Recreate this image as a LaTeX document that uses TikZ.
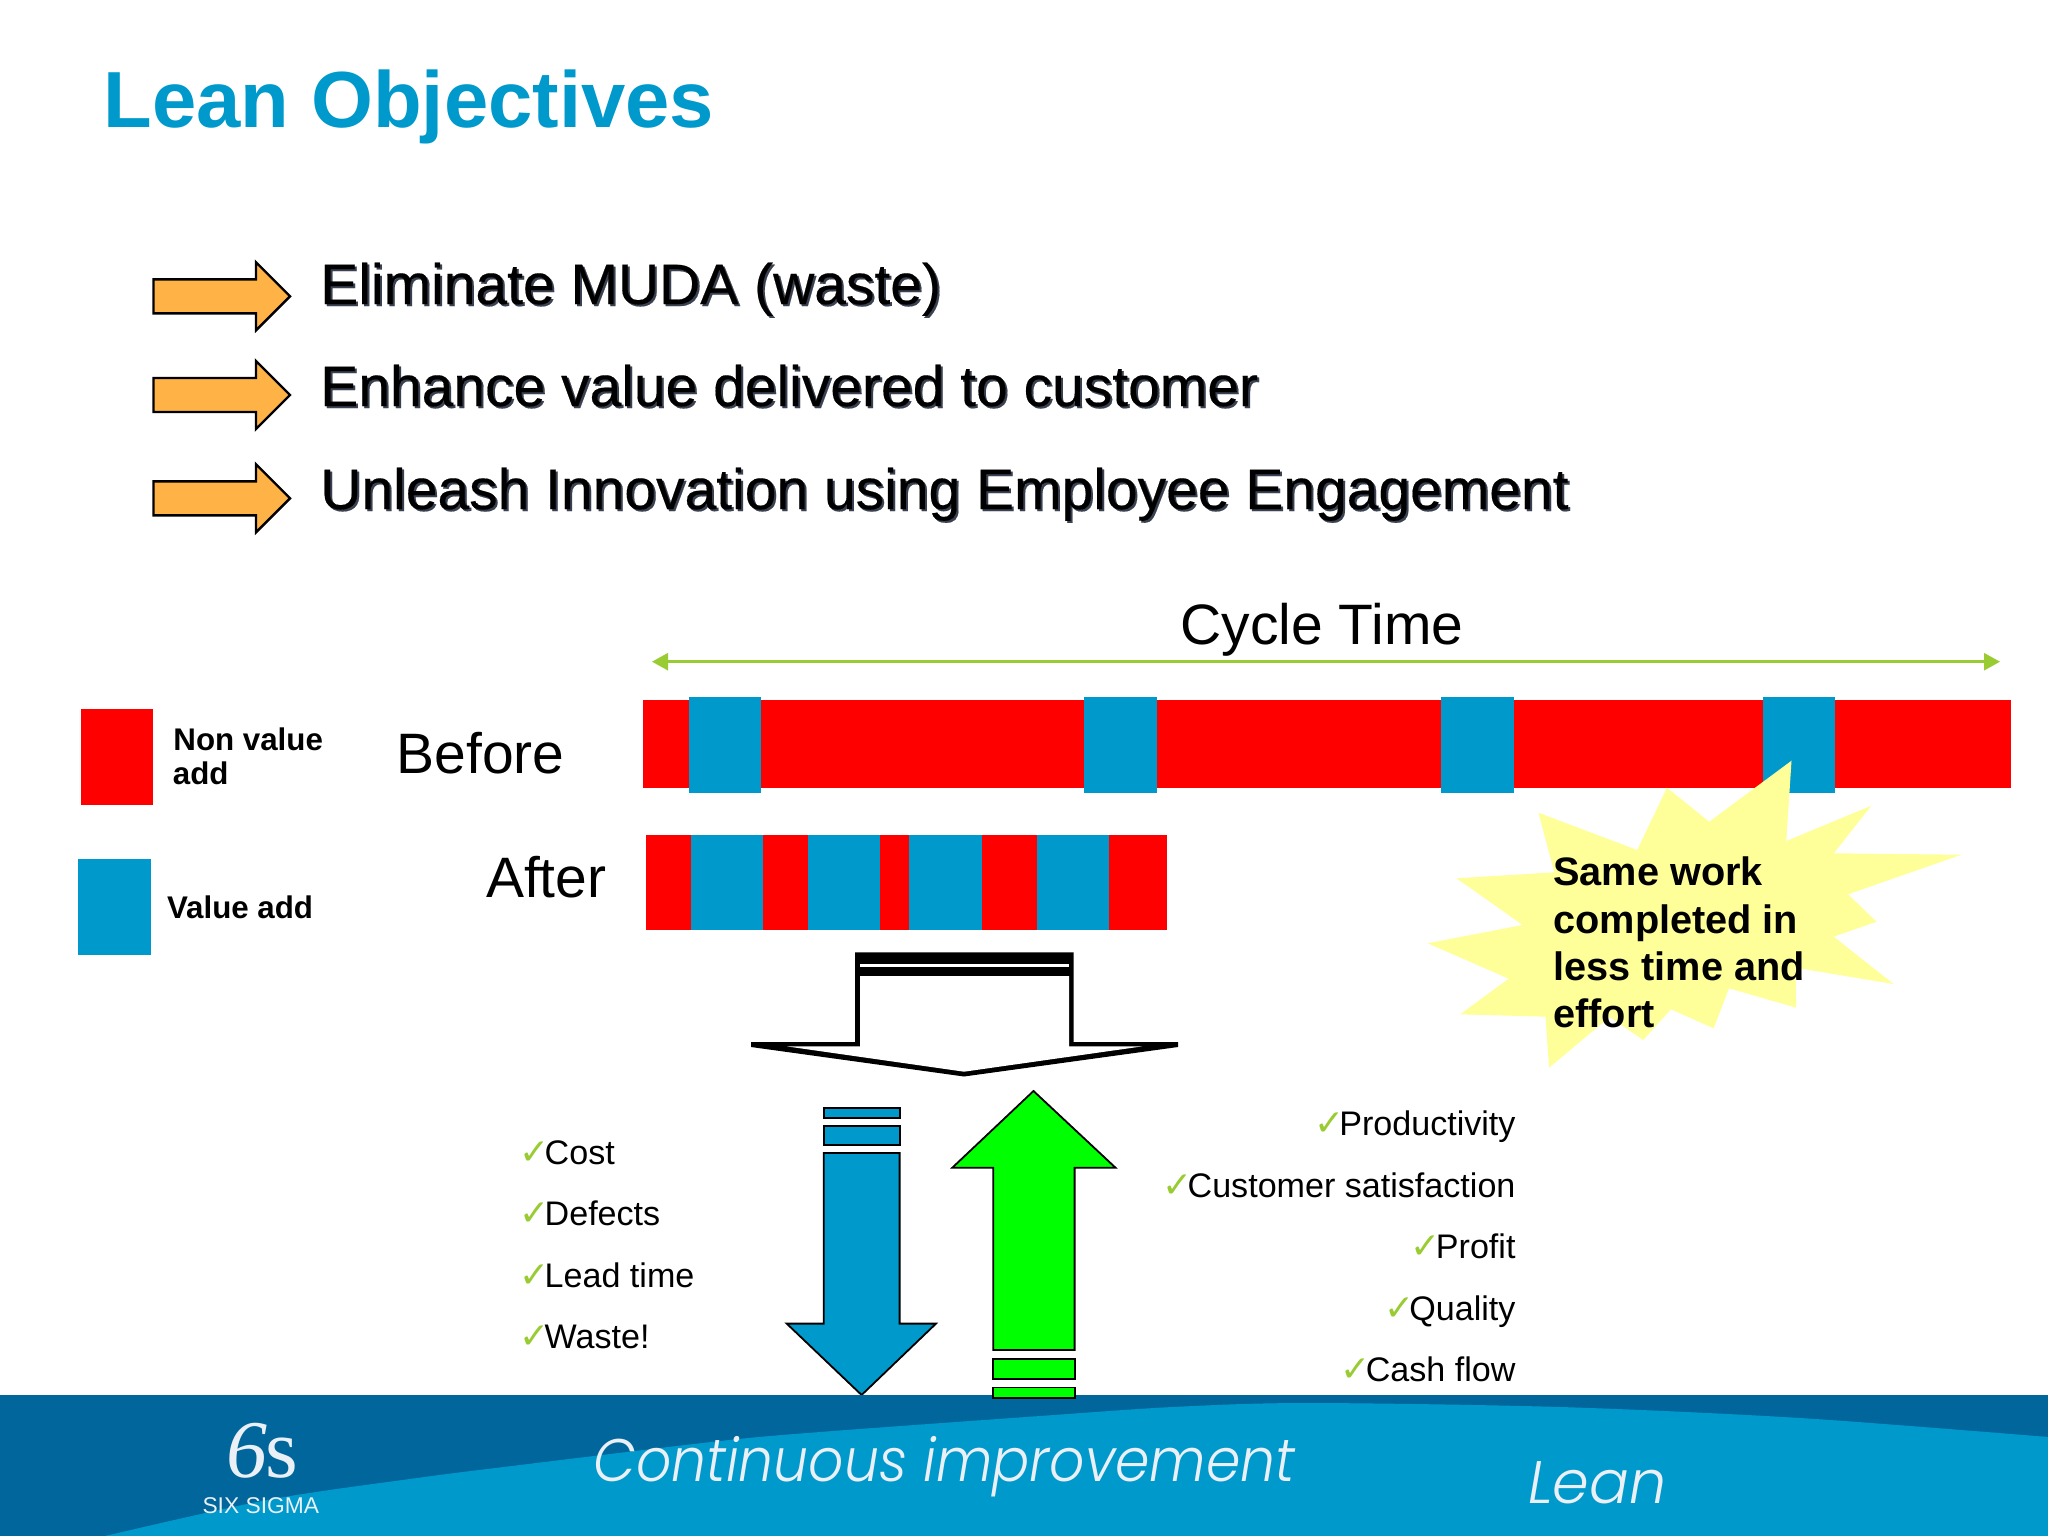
\documentclass[tikz,border=0pt]{standalone}
\usepackage{fontspec}
\usetikzlibrary{arrows.meta}
\setmainfont{Liberation Sans}
\newfontfamily\timesf{Liberation Serif}
\newfontfamily\gothicf[FakeStretch=0.92]{Poppins Light}
\newfontfamily\gothicg[FakeStretch=0.98]{Poppins Light}
\newfontfamily\chkf{DejaVu Sans}
\newfontfamily\headf[FakeBold=0.3]{Liberation Sans}
\definecolor{leanblue}{HTML}{0099CC}
\definecolor{bandblue}{HTML}{00669C}
\definecolor{barred}{HTML}{FF0000}
\definecolor{orangefill}{HTML}{FFB347}
\definecolor{limecol}{HTML}{99CC33}
\definecolor{burstcol}{HTML}{FFFF99}
\definecolor{shadowcol}{HTML}{3A4252}
\definecolor{bandtext}{HTML}{EAF0F5}
\newcommand{\fsz}[1]{\fontsize{#1}{#1}\selectfont}
\newcommand{\chk}{{\chkf\color{limecol}\fsz{36}\char"2713}\hspace{-5pt}}
\tikzset{
  txt/.style={anchor=base west,inner sep=0pt,outer sep=0pt,text=black},
  rtxt/.style={anchor=base east,inner sep=0pt,outer sep=0pt,text=black,font=\fsz{34.1}},
  ltxt/.style={txt,font=\fsz{34.1}},
  head/.style={txt,font=\headf\fsz{57}},
  headshadow/.style={txt,font=\headf\fsz{57},text=shadowcol},
  label/.style={txt,font=\fsz{57}},
  legend/.style={txt,font=\bfseries\fsz{31.3}},
  burst/.style={txt,font=\bfseries\fsz{39.7}},
  goal/.style={draw=black,line width=2.4pt,fill=orangefill,miter limit=10},
  redbar/.style={fill=barred},
  bluebar/.style={fill=leanblue},
  kpiblue/.style={draw=black,line width=1.8pt,fill=leanblue},
  kpigreen/.style={draw=black,line width=1.8pt,fill=green},
}
\begin{document}
\begin{tikzpicture}[x=1pt,y=-1pt]
\useasboundingbox (0,0) rectangle (2048,1536);
\fill[white] (0,0) rectangle (2048,1536);
% title
\node[txt,font=\bfseries\fsz{79.6},text=leanblue] (title) at (103.5,128) {Lean Objectives};
% goal arrows
\foreach \yy in {296.3,395,498.3}{
  \draw[goal] (153.5,\yy-17) -- (256,\yy-17) -- (256,\yy-34) -- (290,\yy) -- (256,\yy+34) -- (256,\yy+17) -- (153.5,\yy+17) -- cycle;
}
\node[headshadow] (g1s) at (322.3,306) {Eliminate MUDA (waste)};
\node[head] (g1) at (320.3,304) {Eliminate MUDA (waste)};
\node[headshadow] (g2s) at (322.3,408) {Enhance value delivered to customer};
\node[head] (g2) at (320.3,406) {Enhance value delivered to customer};
\node[headshadow] (g3s) at (322.3,511) {Unleash Innovation using Employee Engagement};
\node[head] (g3) at (320.3,509) {Unleash Innovation using Employee Engagement};
% cycle time
\node[label] (cyc) at (1180.5,644.5) {Cycle Time};
\coordinate (ctl) at (652,661.7);
\coordinate (ctr) at (2000,661.7);
\draw[limecol,line width=2.6pt,{Triangle[length=16pt,width=17pt]}-{Triangle[length=16pt,width=17pt]}] (ctl) -- (ctr);
% legend
\fill[barred] (81,709) rectangle (153,805);
\fill[leanblue] (78.4,859) rectangle (150.6,955);
\node[legend] (nv1) at (173.4,750.5) {Non value};
\node[legend] (nv2) at (172.9,784.5) {add};
\node[legend] (va) at (167,918.3) {Value add};
\node[label] (before) at (396.5,773) {Before};
\node[label] (after) at (486,897) {After};
% before bar
\fill[redbar] (643,700) rectangle (2011,788);
\foreach \xa/\xb in {688.5/761,1084/1157,1441/1514,1763/1835}{
  \fill[bluebar] (\xa,696.7) rectangle (\xb,792.7);
}
% after bar
\fill[redbar] (646,834.7) rectangle (1167,930.4);
\foreach \xa/\xb in {691/763,808/880,909/982,1036.5/1109}{
  \fill[bluebar] (\xa,834.7) rectangle (\xb,930.4);
}
% burst
\fill[burstcol] (1791.5,760.7) -- (1786.3,841) -- (1871.3,805.7) -- (1833.8,853.3) -- (1961.5,854.7) -- (1848,894.3) -- (1876.5,921.7) -- (1833.8,936.7) -- (1893.5,984) -- (1795.5,967.7) -- (1796.2,1007.7) -- (1729,988.3) -- (1713.6,1028.3) -- (1670.9,1009.3) -- (1643.2,1040) -- (1609.6,1017) -- (1549.1,1067.7) -- (1545.5,1016.7) -- (1460.1,1014.3) -- (1508.7,978.7) -- (1427.7,943.3) -- (1522.6,925) -- (1456.5,878.3) -- (1554.2,872.3) -- (1538.4,812.7) -- (1637.2,850) -- (1666.9,787.7) -- (1709.2,821.7) -- cycle;
\node[burst] (b1) at (1553.4,885.5) {Same work};
\node[burst] (b2) at (1553.4,933) {completed in};
\node[burst] (b3) at (1553.4,980.5) {less time and};
\node[burst] (b4) at (1553.4,1027.7) {effort};
% hollow arrow
\fill[black] (855,952.4) -- (1073.6,952.4) -- (1073.6,1042) -- (1178,1042) -- (1178,1047) -- (964,1076.5) -- (751,1047) -- (751,1042) -- (855,1042) -- cycle;
\fill[white] (860,976) -- (1069,976) -- (1069,1046.4) -- (1142,1046.4) -- (964,1071.7) -- (787,1046.4) -- (860,1046.4) -- cycle;
\fill[white] (860,964.2) rectangle (1069,967);
% blue arrow
\draw[kpiblue] (823.7,1107.6) rectangle (899.6,1118);
\draw[kpiblue] (823.7,1125.8) rectangle (899.6,1145);
\draw[kpiblue] (823.7,1152.9) -- (899.6,1152.9) -- (899.6,1323.6) -- (936,1323.6) -- (861.6,1395) -- (786.7,1323.6) -- (823.7,1323.6) -- cycle;
% band
\fill[bandblue] (0,1395) rectangle (2048,1536);
\fill[leanblue] plot[smooth,tension=0.5] coordinates {(105,1536) (267,1500) (417,1478) (520,1465) (720,1441) (820,1432) (1040,1416) (1173,1407) (1307,1403) (1560,1407) (1800,1418) (2048,1437)} -- (2048,1536) -- cycle;
% green arrow
\draw[kpigreen] (1033.5,1091) -- (1115.5,1167.7) -- (1074.6,1167.7) -- (1074.6,1350) -- (993.3,1350) -- (993.3,1167.7) -- (952.3,1167.7) -- cycle;
\draw[kpigreen] (993.3,1358.8) rectangle (1074.6,1378.7);
\draw[kpigreen] (993.3,1387.5) rectangle (1074.6,1398);
% left list
\node[ltxt] (l1) at (519.5,1164) {\chk Cost};
\node[ltxt] (l2) at (519.5,1225.5) {\chk Defects};
\node[ltxt] (l3) at (519.5,1287) {\chk Lead time};
\node[ltxt] (l4) at (519.5,1348.5) {\chk Waste!};
% right list
\node[rtxt] (r1) at (1515.5,1135.5) {\chk Productivity};
\node[rtxt] (r2) at (1515.5,1197) {\chk Customer satisfaction};
\node[rtxt] (r3) at (1515.5,1258.5) {\chk Profit};
\node[rtxt] (r4) at (1515.5,1320) {\chk Quality};
\node[rtxt] (r5) at (1515.5,1381.5) {\chk Cash flow};
% band text
\node[txt,font=\gothicf\itshape\fsz{60},text=bandtext] (ci) at (593.5,1481.5) {Continuous improvement};
\node[txt,font=\gothicg\itshape\fsz{60},text=bandtext] (ln) at (1528,1503) {Lean};
\node[txt,text=bandtext] (six) at (226.5,1477) {\timesf\fsz{82}\itshape 6\hspace{-2pt}\fsz{84}\upshape s};
\node[txt,font=\fsz{22.8},text=bandtext] (ss) at (202.5,1513) {SIX SIGMA};
\end{tikzpicture}
\end{document}
